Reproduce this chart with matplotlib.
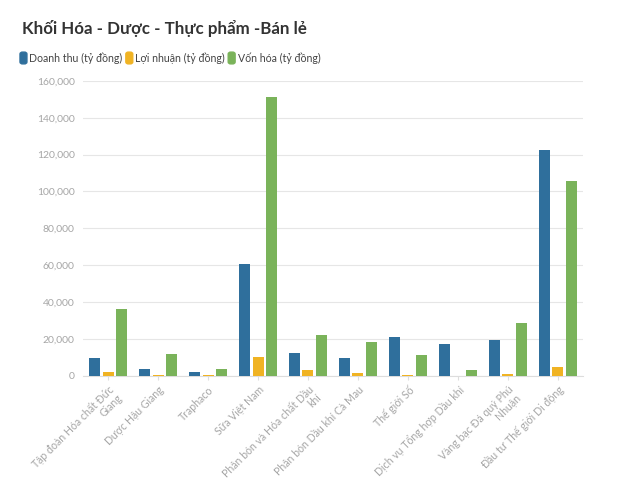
import matplotlib
matplotlib.use("Agg")
import matplotlib.pyplot as plt
from matplotlib.patches import FancyBboxPatch
import numpy as np

plt.rcParams['font.family'] = ['Lato', 'DejaVu Sans']

categories = ["Tập đoàn Hóa chất Đức\nGiang", "Dược Hậu Giang", "Traphaco", "Sữa Việt Nam",
              "Phân bón và Hóa chất Dầu\nkhí", "Phân bón Dầu khí Cà Mau", "Thế giới Số",
              "Dịch vụ Tổng hợp Dầu khí", "Vàng bạc Đá quý Phú\nNhuận", "Đầu tư Thế giới Di động"]
doanh_thu = [9400, 3800, 2000, 60800, 12500, 9800, 20800, 17400, 19400, 122600]
loi_nhuan = [2200, 700, 200, 10300, 2900, 1600, 700, 100, 1000, 4700]
von_hoa = [36500, 12000, 3800, 151200, 21900, 18100, 11400, 3400, 28900, 105900]
series_names = ["Doanh thu (tỷ đồng)", "Lợi nhuận (tỷ đồng)", "Vốn hóa (tỷ đồng)"]
colors = ["#2f6f9c", "#f0b323", "#7ab35a"]
yticks = [0, 20000, 40000, 60000, 80000, 100000, 120000, 140000, 160000]

fig = plt.figure(figsize=(6.3, 4.9), dpi=100)
ax = fig.add_axes([0.132, 0.233, 0.793, 0.602])

x = np.arange(len(categories))
w = 0.22
off = 0.265
for i, vals in enumerate([doanh_thu, loi_nhuan, von_hoa]):
    ax.bar(x + (i - 1) * off, vals, width=w, color=colors[i], zorder=3)

ax.set_xlim(-0.5, len(categories) - 0.5)
ax.set_ylim(0, 160000)
ax.set_yticks(yticks)
ax.set_yticklabels([f"{v:,}" for v in yticks])
ax.grid(axis='y', color='#e6e6e6', linewidth=0.8, zorder=0)
for s in ['top', 'right', 'left']:
    ax.spines[s].set_visible(False)
ax.spines['bottom'].set_color('#dddddd')
ax.tick_params(axis='y', length=0, labelsize=7.5, labelcolor='#a6a6a6', pad=6)
ax.tick_params(axis='x', length=3, color='#dddddd', labelsize=7.6, labelcolor='#a6a6a6', pad=3)
ax.set_xticks(x)
ax.set_xticklabels(categories, rotation=45, ha='right', rotation_mode='anchor', multialignment='right', linespacing=1.0)

fig.text(0.035, 0.942, "Khối Hóa - Dược - Thực phẩm -Bán lẻ", fontsize=12.2, fontweight='bold',
         color='#333333', va='center', ha='left')

# legend
lx = 20 / 630
ly = 1 - 58 / 490
for name, c in zip(series_names, colors):
    box = FancyBboxPatch((lx, ly - 0.012), 0.011, 0.024, boxstyle="round,pad=0,rounding_size=0.004",
                         transform=fig.transFigure, color=c, figure=fig)
    fig.patches.append(box)
    t = fig.text(lx + 0.015, ly, name, fontsize=7.6, color='#444444', va='center', ha='left')
    fig.canvas.draw()
    bb = t.get_window_extent()
    lx = bb.x1 / fig.bbox.width + 0.005

fig.savefig("out.png", dpi=100, facecolor='white')
